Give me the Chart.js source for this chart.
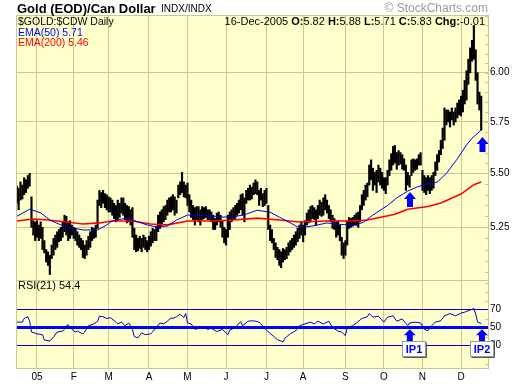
<!DOCTYPE html>
<html>
<head>
<meta charset="utf-8">
<script src="https://cdn.jsdelivr.net/npm/chart.js@4.4.0/dist/chart.umd.min.js"></script>
<style>
  body { margin: 0; background: #fff; width: 520px; height: 384px; position: relative; overflow: hidden; }
  #priceChart { position: absolute; left: 0; top: 0; }
  #rsiChart { position: absolute; left: 0; top: 272px; }
</style>
</head>
<body>
<canvas id="priceChart" width="520" height="290"></canvas>
<canvas id="rsiChart" width="520" height="112"></canvas>
<script>
// trading days, index 0 = 15-Dec-2004, last = 16-Dec-2005
const monthIdx = [11, 31, 50, 72, 93, 114, 136, 156, 179, 200, 221, 242];
const monthLabels = ['05', 'F', 'M', 'A', 'M', 'J', 'J', 'A', 'S', 'O', 'N', 'D'];

const highs = [
  5.44, 5.43, 5.46, 5.445, 5.48, 5.47, 5.49, 5.50, 5.39, 5.28,
  5.275, 5.28, 5.26, 5.275, 5.25, 5.19, 5.15, 5.14, 5.125, 5.17,
  5.20, 5.215, 5.23, 5.24, 5.25, 5.275, 5.305, 5.30, 5.275, 5.28,
  5.26, 5.25, 5.245, 5.23, 5.215, 5.20, 5.19, 5.17, 5.19, 5.21,
  5.23, 5.25, 5.245, 5.26, 5.375, 5.42, 5.41, 5.42, 5.405, 5.40,
  5.39, 5.385, 5.375, 5.36, 5.35, 5.375, 5.36, 5.385, 5.385, 5.36,
  5.35, 5.345, 5.33, 5.34, 5.245, 5.215, 5.20, 5.21, 5.20, 5.215,
  5.205, 5.19, 5.21, 5.23, 5.245, 5.24, 5.255, 5.305, 5.32, 5.33,
  5.345, 5.35, 5.375, 5.385, 5.39, 5.40, 5.39, 5.375, 5.445, 5.46,
  5.505, 5.46, 5.445, 5.455, 5.40, 5.375, 5.35, 5.34, 5.345, 5.345,
  5.33, 5.345, 5.34, 5.345, 5.33, 5.33, 5.32, 5.305, 5.29, 5.315,
  5.32, 5.305, 5.28, 5.25, 5.24, 5.305, 5.32, 5.33, 5.34, 5.35,
  5.36, 5.375, 5.40, 5.405, 5.385, 5.42, 5.43, 5.445, 5.435, 5.455,
  5.47, 5.46, 5.42, 5.43, 5.405, 5.42, 5.43, 5.35, 5.26, 5.24,
  5.20, 5.18, 5.16, 5.15, 5.14, 5.155, 5.15, 5.16, 5.18, 5.19,
  5.20, 5.215, 5.23, 5.245, 5.26, 5.275, 5.26, 5.28, 5.315, 5.33,
  5.345, 5.35, 5.34, 5.33, 5.35, 5.375, 5.365, 5.385, 5.40, 5.375,
  5.35, 5.33, 5.305, 5.29, 5.275, 5.28, 5.26, 5.205, 5.18, 5.19,
  5.28, 5.295, 5.29, 5.295, 5.305, 5.315, 5.32, 5.35, 5.40, 5.42,
  5.445, 5.455, 5.54, 5.565, 5.525, 5.505, 5.515, 5.54, 5.525, 5.505,
  5.48, 5.48, 5.515, 5.565, 5.595, 5.63, 5.635, 5.60, 5.61, 5.60,
  5.59, 5.57, 5.54, 5.505, 5.49, 5.565, 5.57, 5.565, 5.57, 5.59,
  5.60, 5.515, 5.49, 5.48, 5.49, 5.48, 5.49, 5.505, 5.555, 5.59,
  5.61, 5.66, 5.72, 5.82, 5.81, 5.81, 5.80, 5.82, 5.80, 5.82,
  5.845, 5.86, 5.88, 5.91, 5.96, 6.01, 6.07, 6.13, 6.17, 6.25,
  6.12, 6.00, 5.90, 5.88
];
const lows = [
  5.36, 5.33, 5.375, 5.38, 5.40, 5.41, 5.43, 5.44, 5.25, 5.215,
  5.19, 5.205, 5.19, 5.20, 5.15, 5.135, 5.095, 5.08, 5.04, 5.11,
  5.125, 5.15, 5.16, 5.185, 5.19, 5.205, 5.23, 5.215, 5.19, 5.20,
  5.215, 5.20, 5.19, 5.17, 5.16, 5.15, 5.115, 5.11, 5.125, 5.15,
  5.16, 5.19, 5.20, 5.205, 5.245, 5.35, 5.34, 5.36, 5.34, 5.33,
  5.32, 5.32, 5.305, 5.29, 5.275, 5.285, 5.295, 5.315, 5.305, 5.285,
  5.27, 5.275, 5.26, 5.205, 5.15, 5.14, 5.145, 5.155, 5.14, 5.16,
  5.15, 5.14, 5.15, 5.165, 5.18, 5.19, 5.19, 5.23, 5.245, 5.26,
  5.275, 5.285, 5.305, 5.32, 5.32, 5.33, 5.305, 5.315, 5.385, 5.40,
  5.41, 5.39, 5.385, 5.35, 5.32, 5.295, 5.285, 5.26, 5.285, 5.275,
  5.26, 5.285, 5.29, 5.295, 5.285, 5.285, 5.275, 5.24, 5.24, 5.26,
  5.275, 5.25, 5.205, 5.18, 5.17, 5.205, 5.24, 5.275, 5.285, 5.29,
  5.305, 5.315, 5.33, 5.305, 5.275, 5.36, 5.375, 5.375, 5.38, 5.40,
  5.405, 5.40, 5.35, 5.375, 5.345, 5.35, 5.36, 5.24, 5.19, 5.18,
  5.15, 5.115, 5.105, 5.08, 5.07, 5.095, 5.105, 5.11, 5.125, 5.14,
  5.15, 5.16, 5.17, 5.185, 5.20, 5.215, 5.185, 5.215, 5.26, 5.27,
  5.275, 5.29, 5.285, 5.26, 5.29, 5.305, 5.30, 5.305, 5.33, 5.315,
  5.29, 5.275, 5.245, 5.24, 5.205, 5.215, 5.19, 5.125, 5.11, 5.125,
  5.17, 5.245, 5.25, 5.255, 5.26, 5.26, 5.25, 5.275, 5.33, 5.35,
  5.375, 5.39, 5.445, 5.47, 5.42, 5.445, 5.41, 5.46, 5.445, 5.43,
  5.42, 5.405, 5.445, 5.49, 5.515, 5.54, 5.55, 5.52, 5.54, 5.545,
  5.52, 5.515, 5.42, 5.445, 5.435, 5.49, 5.505, 5.515, 5.52, 5.54,
  5.54, 5.42, 5.41, 5.40, 5.42, 5.405, 5.42, 5.43, 5.49, 5.515,
  5.555, 5.59, 5.62, 5.66, 5.735, 5.75, 5.725, 5.76, 5.735, 5.75,
  5.77, 5.785, 5.78, 5.80, 5.84, 5.86, 5.94, 6.00, 6.06, 6.07,
  5.96, 5.84, 5.81, 5.71
];

const ema50Idx = [0, 7, 13, 18, 24, 29, 36, 44, 49, 52, 60, 63, 71, 76, 82, 87, 93, 100, 107, 112, 118, 125, 131, 138, 143, 149, 153, 158, 164, 169, 174, 180, 185, 189, 194, 202, 207, 213, 218, 223, 229, 234, 240, 245, 248, 253];
const ema50 = [5.30, 5.333, 5.316, 5.283, 5.261, 5.25, 5.238, 5.238, 5.261, 5.279, 5.292, 5.283, 5.261, 5.252, 5.256, 5.283, 5.306, 5.306, 5.301, 5.297, 5.297, 5.31, 5.328, 5.319, 5.297, 5.27, 5.252, 5.252, 5.261, 5.27, 5.265, 5.261, 5.261, 5.274, 5.306, 5.35, 5.385, 5.417, 5.436, 5.45, 5.459, 5.50, 5.57, 5.637, 5.67, 5.71];

const ema200Idx = [0, 9, 17, 27, 36, 45, 52, 63, 73, 82, 93, 107, 118, 131, 143, 154, 169, 183, 191, 199, 206, 213, 224, 231, 242, 249, 253];
const ema200 = [5.279, 5.288, 5.283, 5.274, 5.265, 5.27, 5.279, 5.279, 5.265, 5.261, 5.279, 5.279, 5.283, 5.292, 5.283, 5.274, 5.279, 5.279, 5.283, 5.297, 5.31, 5.333, 5.345, 5.361, 5.403, 5.447, 5.46];

const rsiIdx = [0, 3, 4, 6, 7, 8, 11, 14, 15, 18, 20, 22, 25, 26, 27, 28, 30, 32, 33, 36, 37, 39, 42, 44, 45, 47, 49, 51, 54, 55, 57, 59, 61, 63, 64, 66, 68, 70, 73, 74, 76, 78, 80, 82, 84, 85, 87, 89, 91, 92, 93, 95, 97, 99, 101, 104, 106, 109, 112, 115, 116, 119, 122, 123, 126, 129, 132, 133, 136, 140, 142, 145, 146, 149, 152, 154, 157, 160, 162, 164, 167, 170, 172, 175, 177, 179, 180, 183, 185, 188, 191, 192, 194, 197, 200, 202, 205, 207, 210, 213, 214, 217, 220, 222, 224, 225, 228, 231, 233, 236, 239, 242, 244, 247, 249, 250, 251, 253];
const rsi = [56, 56, 60, 62, 57, 45, 43, 42, 36, 35, 39.5, 45, 46, 48, 52, 53, 48, 45, 46, 43, 45, 52, 54, 57, 62.5, 62, 60, 61, 56, 54, 56, 52, 55, 48, 40, 38.5, 44, 42, 43, 45, 50, 55, 54, 57, 60.7, 60, 62, 64.7, 61, 65.5, 55, 54, 48, 49, 51, 48, 49, 45.5, 48, 42, 47, 50, 56.6, 52, 57, 57.5, 56, 54, 47, 40, 36.5, 34, 38, 43, 46.5, 52, 54, 56, 54, 57, 54, 57, 50, 46, 45, 41, 50, 52, 55, 60, 62, 65.5, 61.5, 62.5, 56, 61.5, 63, 57, 59.5, 52, 55, 56, 55, 48, 46.5, 50, 56, 57.5, 63, 65.5, 63, 66, 67, 69.5, 71, 65, 56, 54.4];

const priceTicks = [5.25, 5.50, 5.75, 6.00];
const rsiTicks = [30, 50, 70];

// annotations: [day index, value]
const priceArrows = [[214.2, 5.413], [253.7, 5.676]];
const rsiArrows = [[214.1, 48, 'IP1', 4], [253.4, 48, 'IP2', 0]];

const FONT = '"Liberation Sans", Arial, sans-serif';
const PANEL = '#FFFFCC';
const GRID = '#CDC597';
const X_MIN = -0.436, X_MAX = 256.7;

Chart.defaults.font.family = FONT;
Chart.defaults.color = '#000';

function frame(minor) {
  return {
    id: 'frame',
    beforeDraw(chart) {
      const { ctx, chartArea: a } = chart;
      ctx.save();
      ctx.fillStyle = PANEL;
      ctx.fillRect(a.left, a.top, a.right - a.left, a.bottom - a.top);
      ctx.restore();
    },
    afterDraw(chart) {
      const { ctx, chartArea: a } = chart;
      const y = chart.scales.y;
      ctx.save();
      ctx.strokeStyle = GRID;
      ctx.lineWidth = 1;
      ctx.strokeRect(a.left + 0.5, a.top + 0.5, a.right - a.left, a.bottom - a.top);
      minor.forEach(v => {
        const py = Math.round(y.getPixelForValue(v)) + 0.5;
        if (py <= a.top + 1 || py >= a.bottom - 1) return;
        ctx.beginPath();
        ctx.moveTo(a.right - 3, py);
        ctx.lineTo(a.right + 1, py);
        ctx.stroke();
      });
      ctx.restore();
    }
  };
}

function arrow(ctx, cx, ty, w, headH, bodyW, bodyH) {
  ctx.beginPath();
  ctx.moveTo(cx, ty);
  ctx.lineTo(cx + w / 2, ty + headH);
  ctx.lineTo(cx + bodyW / 2, ty + headH);
  ctx.lineTo(cx + bodyW / 2, ty + headH + bodyH);
  ctx.lineTo(cx - bodyW / 2, ty + headH + bodyH);
  ctx.lineTo(cx - bodyW / 2, ty + headH);
  ctx.lineTo(cx - w / 2, ty + headH);
  ctx.closePath();
  ctx.fill();
}

const priceText = {
  id: 'priceText',
  afterDraw(chart) {
    const { ctx, scales } = chart;
    ctx.save();
    ctx.textBaseline = 'alphabetic';
    ctx.fillStyle = '#0000ff';
    priceArrows.forEach(([i, v]) => {
      arrow(ctx, scales.x.getPixelForValue(i), scales.y.getPixelForValue(v), 12, 7, 6, 8);
    });

    ctx.fillStyle = '#000';
    ctx.font = 'bold 13px ' + FONT;
    ctx.fillText('Gold (EOD)/Can Dollar', 17, 13);
    ctx.font = '10px ' + FONT;
    ctx.fillText('INDX/INDX', 161, 12);
    ctx.fillStyle = '#9a9a9a';
    ctx.font = '12px ' + FONT;
    ctx.textAlign = 'right';
    ctx.fillText('\u00A9 StockCharts.com', 488, 12);
    ctx.textAlign = 'left';

    ctx.font = '10.5px ' + FONT;
    ctx.fillStyle = '#000';
    ctx.fillText('$GOLD:$CDW Daily', 18, 25);
    ctx.fillStyle = '#0000ff';
    ctx.fillText('EMA(50) 5.71', 18, 35.5);
    ctx.fillStyle = '#ff0000';
    ctx.fillText('EMA(200) 5.46', 18, 46);

    const hdr = [['16-Dec-2005 ', 0], ['O:', 1], ['5.82 ', 0], ['H:', 1], ['5.88 ', 0], ['L:', 1], ['5.71 ', 0], ['C:', 1], ['5.83 ', 0], ['Chg:', 1], ['-0.01', 0]];
    const fontOf = b => (b ? 'bold ' : '') + '11px ' + FONT;
    let total = 0;
    hdr.forEach(([t, b]) => { ctx.font = fontOf(b); total += ctx.measureText(t).width; });
    let x = 485 - total;
    ctx.fillStyle = '#000';
    hdr.forEach(([t, b]) => { ctx.font = fontOf(b); ctx.fillText(t, x, 25); x += ctx.measureText(t).width; });
    ctx.restore();
  }
};

const rsiText = {
  id: 'rsiText',
  afterDraw(chart) {
    const { ctx, scales } = chart;
    ctx.save();
    ctx.fillStyle = '#000';
    ctx.font = '11px ' + FONT;
    ctx.fillText('RSI(21) 54.4', 18, 17);
    rsiArrows.forEach(([i, v, label, dx]) => {
      const cx = scales.x.getPixelForValue(i);
      const ty = scales.y.getPixelForValue(v);
      ctx.fillStyle = '#0000ff';
      arrow(ctx, cx, ty, 12, 6, 6, 6);
      const bx = Math.round(cx + dx - 12) + 0.5, by = Math.round(ty + 12) + 0.5;
      ctx.fillStyle = '#fff';
      ctx.fillRect(bx, by, 23, 15);
      ctx.strokeStyle = '#999';
      ctx.lineWidth = 1;
      ctx.strokeRect(bx, by, 23, 15);
      ctx.strokeStyle = '#555';
      ctx.beginPath();
      ctx.moveTo(bx + 24, by + 1); ctx.lineTo(bx + 24, by + 16); ctx.lineTo(bx + 1, by + 16);
      ctx.stroke();
      ctx.fillStyle = '#0000ff';
      ctx.font = 'bold 11px ' + FONT;
      ctx.textAlign = 'center';
      ctx.fillText(label, bx + 11.5, by + 11.5);
      ctx.textAlign = 'left';
    });
    ctx.restore();
  }
};

const minorPrice = [];
for (let v = 505; v <= 630; v += 5) minorPrice.push(v / 100);
const minorRsi = [10, 20, 40, 60, 80, 90, 100];

new Chart(document.getElementById('priceChart'), {
  type: 'bar',
  data: {
    datasets: [
      {
        type: 'line',
        data: ema50Idx.map((x, k) => ({ x, y: ema50[k] })),
        borderColor: '#0000dd',
        borderWidth: 1,
        pointRadius: 0,
        order: 1
      },
      {
        type: 'line',
        data: ema200Idx.map((x, k) => ({ x, y: ema200[k] })),
        borderColor: '#ff0000',
        borderWidth: 1.6,
        pointRadius: 0,
        order: 2
      },
      {
        type: 'bar',
        data: highs.map((h, i) => ({ x: i, y: [lows[i], h] })),
        backgroundColor: '#000',
        barThickness: 1.5,
        order: 3
      }
    ]
  },
  options: {
    responsive: false,
    animation: false,
    layout: { padding: { left: 16, top: 15, right: 0, bottom: 0 } },
    plugins: { legend: { display: false }, tooltip: { enabled: false } },
    scales: {
      x: {
        type: 'linear',
        min: X_MIN,
        max: X_MAX,
        offset: false,
        afterBuildTicks: s => { s.ticks = monthIdx.map(v => ({ value: v })); },
        afterFit: s => { s.height = 10; },
        grid: { color: GRID, drawTicks: false, offset: false },
        border: { display: false },
        ticks: { display: false }
      },
      y: {
        type: 'logarithmic',
        position: 'right',
        bounds: 'data',
        min: 5.0165,
        max: 6.3066,
        afterBuildTicks: s => { s.ticks = priceTicks.map(v => ({ value: v })); },
        afterFit: s => { s.width = 32; },
        grid: { color: GRID, drawTicks: false },
        border: { display: false },
        ticks: { autoSkip: false, padding: 2, font: { size: 10 }, callback: v => v.toFixed(2) }
      }
    }
  },
  plugins: [frame(minorPrice), priceText]
});

new Chart(document.getElementById('rsiChart'), {
  type: 'line',
  data: {
    datasets: [{
      data: rsiIdx.map((x, k) => ({ x, y: rsi[k] })),
      borderColor: '#0000cc',
      borderWidth: 1,
      pointRadius: 0
    }]
  },
  options: {
    responsive: false,
    animation: false,
    layout: { padding: { left: 16, top: 8, right: 0, bottom: 0 } },
    plugins: { legend: { display: false }, tooltip: { enabled: false } },
    scales: {
      x: {
        type: 'linear',
        min: X_MIN,
        max: X_MAX,
        afterBuildTicks: s => { s.ticks = monthIdx.map(v => ({ value: v })); },
        afterFit: s => { s.height = 16; },
        grid: { color: GRID, drawTicks: false },
        border: { display: false },
        ticks: { autoSkip: false, maxRotation: 0, padding: 3, font: { size: 10 }, callback: v => monthLabels[monthIdx.indexOf(v)] }
      },
      y: {
        position: 'right',
        min: 5,
        max: 102.8,
        afterBuildTicks: s => { s.ticks = rsiTicks.map(v => ({ value: v })); },
        afterFit: s => { s.width = 32; },
        grid: {
          color: c => (c.tick && c.tick.value === 50 ? '#0000ff' : '#0000cc'),
          lineWidth: c => (c.tick && c.tick.value === 50 ? 3 : 1),
          drawTicks: false
        },
        border: { display: false },
        ticks: { autoSkip: false, padding: 2, font: { size: 10 }, callback: v => String(v) }
      }
    }
  },
  plugins: [frame(minorRsi), rsiText]
});
</script>
</body>
</html>
